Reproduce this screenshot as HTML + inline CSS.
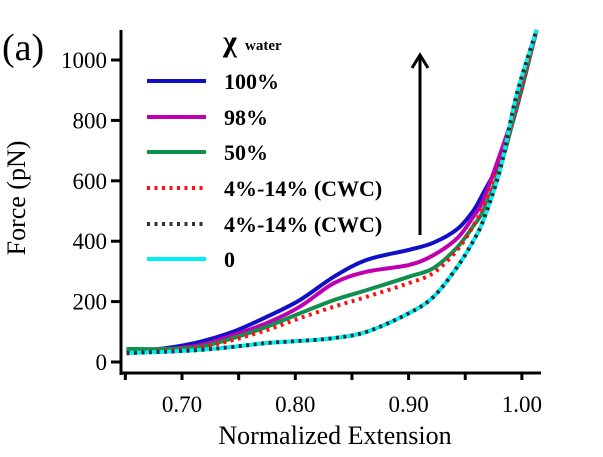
<!DOCTYPE html>
<html><head><meta charset="utf-8"><style>
body{margin:0;background:#fff;width:603px;height:452px;overflow:hidden}
text{font-family:"Liberation Serif",serif}
</style></head><body>
<svg id="chart" width="603" height="452" viewBox="0 0 603 452"></svg>
<script>
const xTicks=[0.70,0.80,0.90,1.00];
const xTickLabels=["0.70","0.80","0.90","1.00"];
const yTicks=[0,200,400,600,800,1000];
const xs=[0.651,0.686,0.716,0.745,0.775,0.804,0.834,0.863,0.900,0.922,0.943,0.957,0.966,0.981,0.995,1.013];
const blue=[34,46,67,100,150,205,282,338,371,395,440,500,560,670,835,1100];
const pink=[36,42,56,89,129,183,261,299,321,354,410,480,537,691,850,1100];
const green=[43,43,50,79,117,161,205,238,282,311,380,450,503,646,840,1100];
const red=[28,38,48,73,106,145,183,216,261,295,371,450,514,660,840,1100];
const cwc=[30,34,40,50,63,70,79,100,161,216,315,400,470,640,880,1100];
const zero=[30,34,40,50,63,70,79,100,161,216,315,400,470,640,880,1100];
const series=[
 {name:"100%",v:blue,c:"#1010c8",d:null},
 {name:"98%",v:pink,c:"#c000b0",d:null},
 {name:"50%",v:green,c:"#109050",d:null},
 {name:"4%-14% (CWC)",v:red,c:"#ff1010",d:"3,4.5"},
 {name:"0",v:zero,c:"#00f0f8",d:null},
 {name:"4%-14% (CWC)",v:cwc,c:"#303030",d:"3,4.5"}
];
const legendOrder=[0,1,2,3,5,4];
const X=v=>182+(v-0.7)*1133, Y=v=>362-0.302*v;
const svg=document.getElementById('chart'),NS="http://www.w3.org/2000/svg";
function el(t,a,txt){const e=document.createElementNS(NS,t);for(const k in a)e.setAttribute(k,a[k]);if(txt!=null)e.textContent=txt;svg.appendChild(e);return e;}
function smooth(pts){let d='M'+pts[0][0].toFixed(1)+','+pts[0][1].toFixed(1);
 for(let i=0;i<pts.length-1;i++){const p0=pts[i-1]||pts[i],p1=pts[i],p2=pts[i+1],p3=pts[i+2]||p2;
  const c1=[p1[0]+(p2[0]-p0[0])/6,p1[1]+(p2[1]-p0[1])/6],c2=[p2[0]-(p3[0]-p1[0])/6,p2[1]-(p3[1]-p1[1])/6];
  d+='C'+c1.map(n=>n.toFixed(1))+' '+c2.map(n=>n.toFixed(1))+' '+p2.map(n=>n.toFixed(1));}
 return d;}
let e;
e=el('line',{x1:121,y1:30,x2:121,y2:375,stroke:'#000','stroke-width':3});

e=el('line',{x1:119.5,y1:373,x2:541,y2:373,stroke:'#000','stroke-width':3});

for(let v=0.65;v<1.02;v+=0.05){e=el('line',{x1:X(v),y1:373,x2:X(v),y2:380,stroke:'#000','stroke-width':3});
}
xTicks.forEach((v,i)=>{e=el('text',{x:X(v),y:412,'font-size':23,'text-anchor':'middle'},xTickLabels[i]);
});
yTicks.forEach(v=>{e=el('line',{x1:111,y1:Y(v),x2:121,y2:Y(v),stroke:'#000','stroke-width':3});

e=el('text',{x:107,y:Y(v)+8,'font-size':23,'text-anchor':'end'},String(v));
});
e=el('text',{x:335,y:444,'font-size':26,'text-anchor':'middle'},'Normalized Extension');

e=el('text',{x:0,y:0,'font-size':26,'text-anchor':'middle',transform:'translate(25,198) rotate(-90)','xml:space':'preserve'},'Force  (pN)');

e=el('text',{x:2,y:60,'font-size':38},'(a)');

series.forEach(s=>{
 const pts=xs.map((x,i)=>[X(x),Y(s.v[i])]);
 const a={d:smooth(pts),fill:'none',stroke:s.c,'stroke-width':4,'stroke-linejoin':'round'};
 if(s.d)a['stroke-dasharray']=s.d;
 e=el('path',a);
 
});
e=el('line',{x1:420,y1:235,x2:420,y2:58,stroke:'#000','stroke-width':3});

e=el('path',{d:'M412,68 L420,55 L428,68',fill:'none',stroke:'#000','stroke-width':3});

e=el('text',{x:223,y:51,'font-size':30,'font-weight':'bold','font-family':'DejaVu Sans'},'χ');

e=el('text',{x:245,y:50,'font-size':15,'font-weight':'bold'},'water');

const rowsY=[81,117,152,188,224,259];
legendOrder.forEach((si,i)=>{const s=series[si];const a={x1:147,y1:rowsY[i],x2:206,y2:rowsY[i],stroke:s.c,'stroke-width':4};
 if(s.d)a['stroke-dasharray']=s.d;
 e=el('line',a);
 e=el('text',{x:224,y:rowsY[i]+8,'font-size':22,'font-weight':'bold'},s.name);
 });
</script>
</body></html>
